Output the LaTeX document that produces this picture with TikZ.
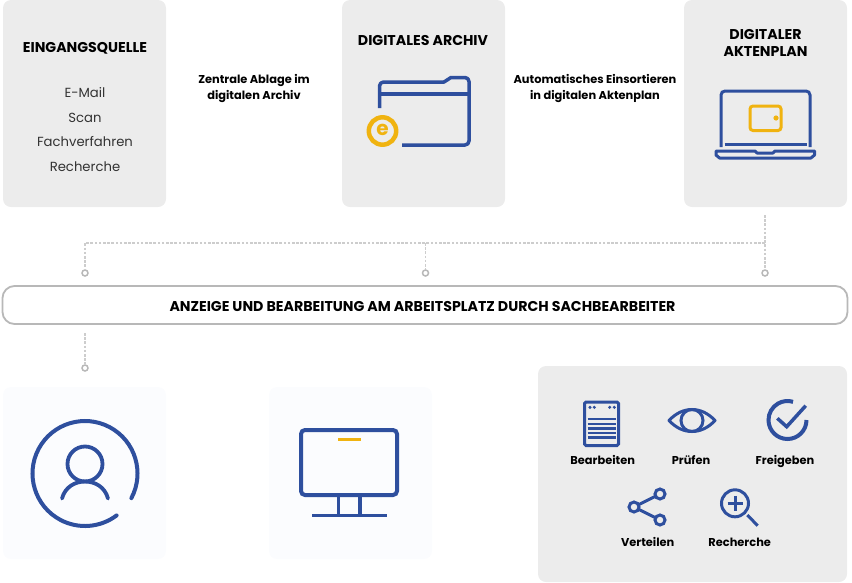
\documentclass[tikz,border=0pt]{standalone}
\usepackage{fontspec}
\setmainfont{Poppins}
\definecolor{iconblue}{HTML}{2E4F9E}
\definecolor{icongold}{HTML}{F0B310}
\definecolor{boxgray}{HTML}{ECECEC}
\definecolor{boxpale}{HTML}{FBFCFE}
\definecolor{guidegray}{HTML}{CDCDCD}
\definecolor{bargray}{HTML}{B8B8B8}
\definecolor{itemgray}{HTML}{333333}
\tikzset{
  panel/.style={fill=boxgray, rounded corners=8pt, inner sep=0pt},
  palepanel/.style={fill=boxpale, rounded corners=8pt, inner sep=0pt, minimum width=163, minimum height=172},
  headline/.style={font=\bfseries\fontsize{14.2}{17}\selectfont, align=center, text=black},
  notetext/.style={font=\bfseries\fontsize{11.4}{16}\selectfont, align=center, text=black},
  itemtext/.style={font=\fontsize{13.2}{15}\selectfont, text=itemgray},
  verbtext/.style={font=\bfseries\fontsize{11.4}{13}\selectfont, text=black, anchor=base},
  guide/.style={guidegray, dash pattern=on 2.6pt off 1.6pt, line width=1.3pt},
  guidedot/.style={circle, draw=bargray, fill=white, line width=1.5pt, inner sep=0pt, minimum size=6pt},
  iconline/.style={iconblue, line width=3.5pt},
  thinicon/.style={iconblue, line width=3pt},
}
\begin{document}
\begin{tikzpicture}[x=1pt, y=-1pt, line cap=butt]

\useasboundingbox (0,0) rectangle (852,582);

% Upper panels
\node[panel, minimum width=163, minimum height=207] (quelle) at (84.5,103.5) {};
\node[panel, minimum width=163, minimum height=207] (archiv) at (423.5,103.5) {};
\node[panel, minimum width=163, minimum height=207] (plan) at (765.5,103.5) {};

% Upper texts
\node[headline] (quelleTitle) at (85,48) {EINGANGSQUELLE};
\node[itemtext] (itemMail) at (85,92.5) {E-Mail};
\node[itemtext] (itemScan) at (85,117.5) {Scan};
\node[itemtext] (itemFach) at (85,142) {Fachverfahren};
\node[itemtext] (itemRecherche) at (85,166.5) {Recherche};
\node[headline] (archivTitle) at (423,40) {DIGITALES ARCHIV};
\node[headline] (planTitle) at (765.5,43) {DIGITALER\\AKTENPLAN};
\node[notetext] (noteAblage) at (254,88) {Zentrale Ablage im\\digitalen Archiv};
\node[notetext] (noteSort) at (595,88) {Automatisches Einsortieren\\in digitalen Aktenplan};

% Folder
\draw[iconline, line join=round] (379.5,108) -- (379.5,86) arc[start angle=180, end angle=270, radius=4]
  -- (444,82) -- (451,77.5) -- (465,77.5) arc[start angle=-90, end angle=0, radius=4]
  -- (469,141) arc[start angle=0, end angle=90, radius=4] -- (402,145);
\draw[iconline] (379.5,94) -- (469,94);
\draw[icongold, line width=4.5pt] (382.5,131) circle (13.7);
\node[font=\bfseries\fontsize{20}{20}\selectfont, text=icongold, inner sep=0pt] (euro) at (382.5,130) {e};

% Laptop
\draw[iconline, line width=3pt] (721,147) -- (721,95) arc[start angle=180, end angle=270, radius=4]
  -- (806,91) arc[start angle=-90, end angle=0, radius=4] -- (810,147);
\draw[iconline, line width=3pt] (724.5,144.5) -- (806.5,144.5);
\draw[iconline, line width=3pt, line join=round] (716,151) -- (755,151) -- (757,153) -- (773,153) -- (775,151) -- (814.5,151)
  -- (814.5,155) -- (811,158) -- (719.5,158) -- (716,155) -- cycle;
\draw[icongold, line width=3pt, rounded corners=3pt] (750,106) rectangle (781,130.5);
\fill[icongold] (776,118) circle (2.6);

% Guide lines from the panels to the bar
\node[guidedot] (dotQuelle) at (85,273) {};
\node[guidedot] (dotArchiv) at (425.5,273) {};
\node[guidedot] (dotPlan) at (765,273) {};
\coordinate (planFoot) at (765,215);
\coordinate (guideBend) at (765,243);
\draw[guide] (planFoot) -- (dotPlan);
\draw[guide] (guideBend) -| (dotQuelle);
\draw[guide] (dotArchiv |- guideBend) -- (dotArchiv);

% Bar
\node[draw=bargray, line width=1.8pt, fill=white, rounded corners=12pt, minimum width=845, minimum height=38, inner sep=0pt] (bar) at (425,305) {};
\node[headline] (barText) at (422.5,306) {ANZEIGE UND BEARBEITUNG AM ARBEITSPLATZ DURCH SACHBEARBEITER};

% Guide below the bar
\coordinate (barFoot) at (85,333);
\node[guidedot] (dotUser) at (85,368) {};
\draw[guide] (barFoot) -- (dotUser);

% Lower panels
\node[palepanel] (userPanel) at (84.5,473) {};
\node[palepanel] (screenPanel) at (350.5,473) {};
\node[panel, minimum width=309, minimum height=216] (actions) at (692.5,474) {};

% User
\def\Rring{52.5}
\draw[iconline, line width=4pt, line cap=round] (85,473.5) ++(28:\Rring) arc[start angle=28, end angle=-307, radius=\Rring];
\draw[iconline, line width=3.8pt] (85,464) circle (17.5);
\draw[iconline, line width=3.8pt, line cap=round] (62,498.5) .. controls (65,487) and (75,481.5) .. (85,481.5)
  .. controls (95,481.5) and (105,487) .. (108,498.5);

% Monitor
\draw[iconline, line width=4pt, rounded corners=4pt] (301,430) rectangle (397,495);
\draw[icongold, line width=3pt] (338,439.5) -- (361,439.5);
\draw[iconline] (338.5,497) -- (338.5,515);
\draw[iconline] (360,497) -- (360,515);
\draw[iconline] (312,515.5) -- (387,515.5);

% Sheet
\draw[thinicon, rounded corners=1.5pt] (584.5,402) rectangle (618.5,445.5);
\foreach \x in {590,594.3,609.7,614.3}
  \fill[iconblue] (\x,407.3) circle (1.7);
\foreach \y in {419,423.7,428.3,432.7,437.3}
  \draw[iconblue, line width=2.4pt] (587.5,\y) -- (616,\y);

% Eye
\draw[thinicon, line join=round] (669,420.5) .. controls (676,413) and (684,409.5) .. (692,409.5)
  .. controls (700,409.5) and (708,413) .. (715,420.5)
  .. controls (708,428) and (700,431.5) .. (692,431.5)
  .. controls (684,431.5) and (676,428) .. (669,420.5) -- cycle;
\draw[thinicon] (692,420.5) circle (11);

% Check
\draw[iconline, line width=4pt] (787.5,420) ++(0:19) arc[start angle=0, end angle=287, radius=19];
\draw[iconline] (777.3,418.3) -- (786.7,426.7) -- (805.7,405.7);

% Share
\draw[thinicon] (634,507) circle (5);
\draw[thinicon] (660,494) circle (5);
\draw[thinicon] (660,520) circle (5);
\draw[thinicon] (638.5,504.8) -- (655.5,496.2);
\draw[thinicon] (638.5,509.2) -- (655.5,517.8);

% Magnifier
\draw[thinicon] (735,503.3) circle (13.5);
\draw[thinicon] (727.5,503.3) -- (742.5,503.3);
\draw[thinicon] (735,495.8) -- (735,510.8);
\draw[thinicon] (747.3,515) -- (757.7,525.7);

% Verbs
\node[verbtext] (verbEdit) at (602.7,464) {Bearbeiten};
\node[verbtext] (verbCheck) at (691,464) {Prüfen};
\node[verbtext] (verbRelease) at (785,464) {Freigeben};
\node[verbtext] (verbShare) at (647.7,546.5) {Verteilen};
\node[verbtext] (verbSearch) at (739.7,546.5) {Recherche};

\end{tikzpicture}
\end{document}
